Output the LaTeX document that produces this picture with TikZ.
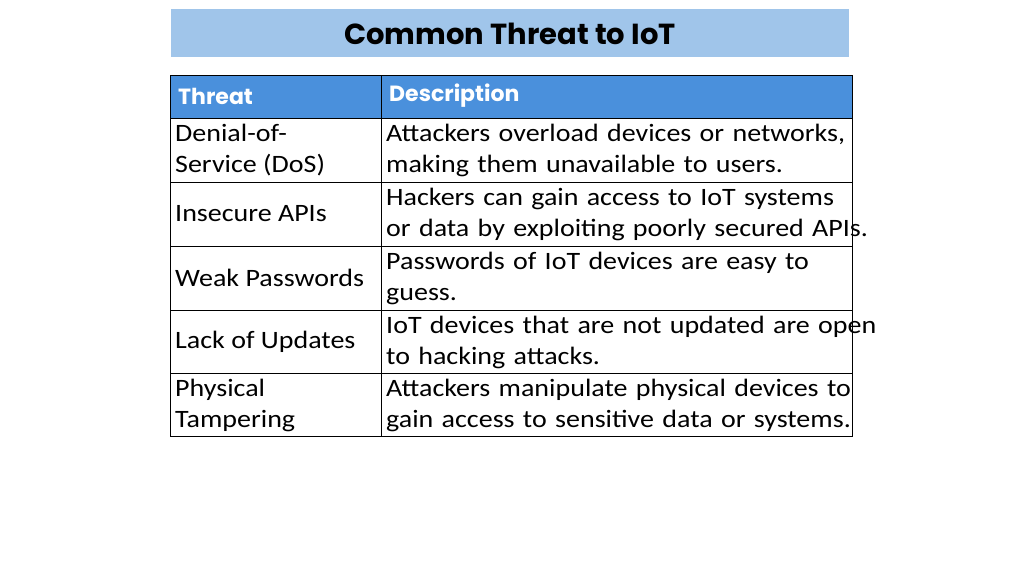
\documentclass[tikz,border=0pt]{standalone}
\usepackage{fontspec}
\setmainfont{Carlito}[FakeStretch=1.12]
\newfontfamily\titlefont{Poppins}
\newcommand{\jl}[1]{\makebox[462pt][s]{#1}}
\begin{document}
\begin{tikzpicture}[x=1pt,y=-1pt,
  cell/.style={anchor=west,inner sep=0pt,align=left,font=\fontsize{25}{31}\selectfont},
  desc/.style={anchor=west,inner sep=0pt,text width=462pt,align=left,font=\fontsize{25}{31}\selectfont},
  hdr/.style={anchor=west,inner sep=0pt,text=white,font=\titlefont\bfseries\fontsize{22}{26}\selectfont}]
\useasboundingbox (0,0) rectangle (1024,576);
\fill[fill={rgb,255:red,160;green,197;blue,234}] (171,9) rectangle (849,57);
\node[inner sep=0pt,font=\titlefont\bfseries\fontsize{29}{32}\selectfont] (title) at (510,34) {Common Threat to IoT};
\fill[fill={rgb,255:red,74;green,144;blue,220}] (170,75) rectangle (852,118);
\draw[line width=1pt] (170,75) rectangle (852,436);
\foreach \y in {118,182,246,310,373} \draw[line width=1pt] (170,\y) -- (852,\y);
\draw[line width=1pt] (381,75) -- (381,436);
\node[hdr] (h1) at (178,96) {Threat};
\node[hdr] (h2) at (389,96) {Description};
\node[cell] (t1) at (175,150) {Denial-of-\\Service (DoS)};
\node[desc] (d1) at (386,150) {\jl{Attackers overload devices or networks,}\\making them unavailable to users.};
\node[cell] (t2) at (175,214) {Insecure APIs};
\node[desc] (d2) at (386,214) {\jl{Hackers can gain access to IoT systems}\\\jl{or data by exploiting poorly secured APIs.}};
\node[cell] (t3) at (175,278) {Weak Passwords};
\node[desc] (d3) at (386,278) {\jl{Passwords of IoT devices are easy to}\\guess.};
\node[cell] (t4) at (175,342) {Lack of Updates};
\node[desc] (d4) at (386,342) {\jl{IoT devices that are not updated are open}\\to hacking attacks.};
\node[cell] (t5) at (175,405) {Physical\\Tampering};
\node[desc] (d5) at (386,405) {\jl{Attackers manipulate physical devices to}\\\jl{gain access to sensitive data or systems.}};
\end{tikzpicture}
\end{document}
